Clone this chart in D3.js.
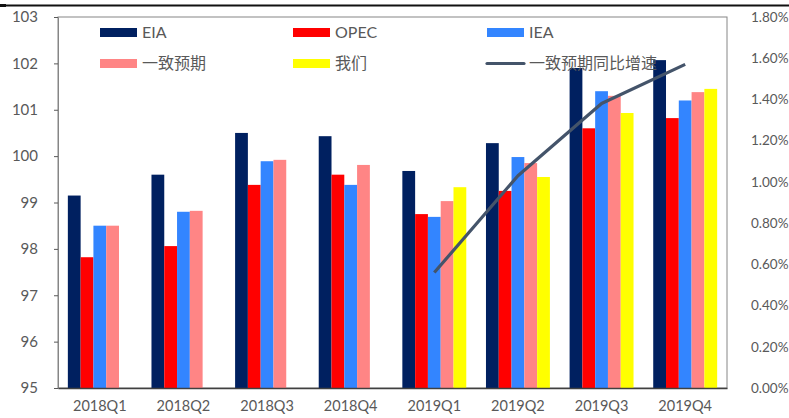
<!DOCTYPE html>
<html>
<head>
<meta charset="utf-8">
<script src="https://cdn.jsdelivr.net/npm/d3@7"></script>
<style>
  body { margin: 0; background: #fff; }
  text { font-family: Lato, "Noto Sans CJK SC", sans-serif; fill: #595959; }
</style>
</head>
<body>
<div id="vis-container"></div>
<script>
/* DATA */
const quarters = ["2018Q1", "2018Q2", "2018Q3", "2018Q4", "2019Q1", "2019Q2", "2019Q3", "2019Q4"];
const seriesNames = ["EIA", "OPEC", "IEA", "一致预期", "我们"];
const eia       = [99.15, 99.6, 100.5, 100.43, 99.68, 100.28, 101.9, 102.07];
const opec      = [97.82, 98.06, 99.38, 99.6, 98.75, 99.25, 100.6, 100.82];
const iea       = [98.5, 98.8, 99.89, 99.38, 98.69, 99.98, 101.4, 101.2];
const consensus = [98.5, 98.82, 99.92, 99.81, 99.03, 99.85, 101.3, 101.38];
const ours      = [null, null, null, null, 99.33, 99.55, 100.93, 101.45];
const growthQuarters = ["2019Q1", "2019Q2", "2019Q3", "2019Q4"];
const growth = [0.0056, 0.0103, 0.0138, 0.0157];
const leftTicks = [95, 96, 97, 98, 99, 100, 101, 102, 103];
const rightTicks = [0, 0.002, 0.004, 0.006, 0.008, 0.010, 0.012, 0.014, 0.016, 0.018];
const lineName = "一致预期同比增速";

const colors = ["#002060", "#ff0000", "#3385ff", "#ff8585", "#ffff00"];
const lineColor = "#44546a";

const width = 789, height = 418;
const margin = {top: 17, right: 62, bottom: 30, left: 58};
const x0 = margin.left, x1 = width - margin.right;
const yTop = margin.top, yBot = height - margin.bottom;

const svg = d3.select("#vis-container")
  .append("svg")
  .attr("width", width)
  .attr("height", height);

// header rule
svg.append("line")
  .attr("x1", 0).attr("x2", width)
  .attr("y1", 5.5).attr("y2", 5.5)
  .attr("stroke", "#111").attr("stroke-width", 2);
svg.append("rect")
  .attr("x", 0).attr("y", 4).attr("width", 6).attr("height", 3)
  .attr("fill", "#111");

let x = d3.scaleBand().domain(quarters).range([x0, x1]);
let xs = d3.scaleBand().domain(seriesNames).range([0, x.bandwidth()]).paddingOuter(0.77);
let y = d3.scaleLinear().domain([95, 103]).range([yBot, yTop]);
let yR = d3.scaleLinear().domain([0, 0.018]).range([yBot, yTop]);

// plot border
svg.append("rect")
  .attr("x", x0).attr("y", yTop)
  .attr("width", x1 - x0).attr("height", yBot - yTop)
  .attr("fill", "none").attr("stroke", "#868686");

// bars
const allSeries = [eia, opec, iea, consensus, ours];
allSeries.forEach((vals, si) => {
  svg.append("g")
    .selectAll("rect")
    .data(quarters.map((q, i) => ({q: q, v: vals[i]})).filter(d => d.v != null))
    .join("rect")
    .attr("x", d => x(d.q) + xs(seriesNames[si]))
    .attr("width", xs.bandwidth())
    .attr("y", d => y(d.v))
    .attr("height", d => y(95) - y(d.v))
    .attr("fill", colors[si]);
});

// left axis
let gl = svg.append("g")
  .attr("transform", `translate(${x0},0)`)
  .call(d3.axisLeft(y).tickValues(leftTicks).tickSize(4).tickSizeOuter(0).tickPadding(16));
gl.select(".domain").attr("stroke", "#868686");
gl.selectAll(".tick line").attr("stroke", "#595959");
gl.selectAll("text").style("font-size", "15px").attr("fill", "#595959");

// right axis
let gr = svg.append("g")
  .attr("transform", `translate(${x1},0)`)
  .call(d3.axisRight(yR).tickValues(rightTicks).tickSize(0).tickPadding(24).tickFormat(d3.format(".2%")));
gr.select(".domain").remove();
gr.selectAll("text").style("font-size", "13.5px").attr("fill", "#595959");

// bottom axis
let gb = svg.append("g")
  .attr("transform", `translate(0,${yBot})`)
  .call(d3.axisBottom(x).tickSize(0).tickPadding(13));
gb.select(".domain").attr("stroke", "#404040").attr("stroke-width", 1.5);
gb.selectAll("text").style("font-size", "14.5px").attr("fill", "#595959");

// growth line
let line = d3.line()
  .x((d, i) => x(growthQuarters[i]) + x.bandwidth() / 2)
  .y(d => yR(d));

svg.append("path")
  .datum(growth)
  .attr("fill", "none")
  .attr("stroke", lineColor)
  .attr("stroke-width", 3.2)
  .attr("stroke-linejoin", "round")
  .attr("d", line);

// legend
const legendItems = [
  {name: seriesNames[0], color: colors[0], type: "bar"},
  {name: seriesNames[1], color: colors[1], type: "bar"},
  {name: seriesNames[2], color: colors[2], type: "bar"},
  {name: seriesNames[3], color: colors[3], type: "bar"},
  {name: seriesNames[4], color: colors[4], type: "bar"},
  {name: lineName, color: lineColor, type: "line"}
];
const legendCols = [100, 293, 487];
const legendRows = [32, 63];

let lg = svg.append("g").selectAll("g")
  .data(legendItems)
  .join("g")
  .attr("transform", (d, i) => `translate(${legendCols[i % 3]},${legendRows[Math.floor(i / 3)]})`);

lg.filter(d => d.type === "bar").append("rect")
  .attr("x", 0).attr("y", -4).attr("width", 37).attr("height", 9)
  .attr("fill", d => d.color);
lg.filter(d => d.type === "line").append("line")
  .attr("x1", 0).attr("x2", 37).attr("y1", 0.5).attr("y2", 0.5)
  .attr("stroke", d => d.color).attr("stroke-width", 3.2).attr("stroke-linecap", "round");
lg.append("text")
  .attr("x", 42).attr("y", 0.5)
  .attr("dy", "0.35em")
  .style("font-size", "16px")
  .text(d => d.name);
</script>
</body>
</html>
